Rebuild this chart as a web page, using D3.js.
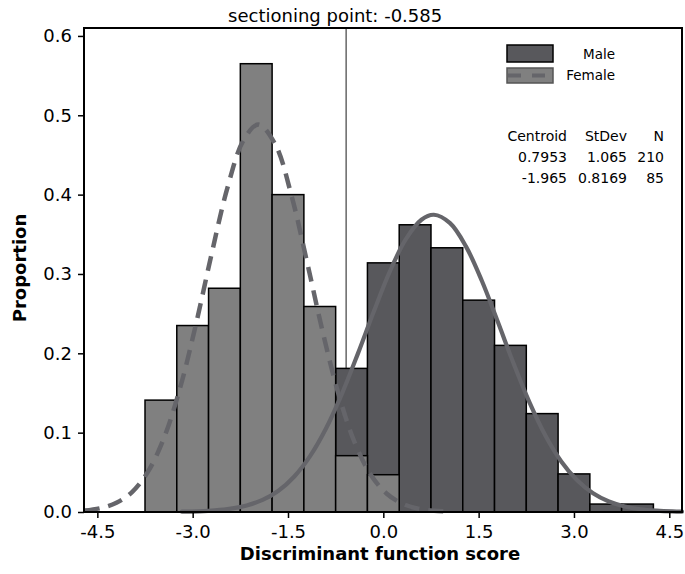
<!DOCTYPE html>
<html>
<head>
<meta charset="utf-8">
<script src="https://cdn.jsdelivr.net/npm/d3@7"></script>
<style>
  html, body { margin: 0; padding: 0; background: #fff; }
  svg { display: block; }
  text { font-family: "DejaVu Sans", Verdana, sans-serif; fill: #000; }
</style>
</head>
<body>
<svg id="chart" width="685" height="574"></svg>
<script>
// ---- data ----
const binStarts = [-3.75, -3.25, -2.75, -2.25, -1.75, -1.25, -0.75, -0.25, 0.25, 0.75, 1.25, 1.75, 2.25, 2.75, 3.25, 3.75];
const binWidth = 0.5;
const maleValues   = [0, 0, 0, 0.019, 0.038, 0.086, 0.181, 0.314, 0.362, 0.333, 0.267, 0.210, 0.124, 0.048, 0.010, 0.010];
const femaleValues = [0.141, 0.235, 0.282, 0.565, 0.400, 0.259, 0.071, 0.047, 0, 0, 0, 0, 0, 0, 0, 0];

const femaleCurveX = [-4.70, -4.45, -4.20, -3.95, -3.70, -3.45, -3.20, -2.95, -2.70, -2.45, -2.20, -1.965, -1.70, -1.45, -1.20, -0.95, -0.70, -0.45, -0.20, 0.05, 0.30, 0.55, 0.80, 1.05];
const femaleCurveY = [0.0018, 0.0048, 0.0116, 0.0255, 0.0512, 0.0936, 0.1558, 0.2361, 0.3259, 0.4095, 0.4686, 0.4884, 0.4633, 0.4004, 0.3150, 0.2257, 0.1473, 0.0875, 0.0473, 0.0233, 0.0105, 0.0043, 0.0016, 0.0005];

const maleCurveX = [-3.17, -2.90, -2.65, -2.40, -2.15, -1.90, -1.65, -1.40, -1.15, -0.90, -0.65, -0.40, -0.15, 0.10, 0.35, 0.60, 0.7953, 1.05, 1.30, 1.55, 1.80, 2.05, 2.30, 2.55, 2.80, 3.05, 3.30, 3.55, 3.80, 4.05, 4.30, 4.55, 4.70];
const maleCurveY = [0.0004, 0.0009, 0.0020, 0.0042, 0.0082, 0.0152, 0.0268, 0.0448, 0.0707, 0.1055, 0.1492, 0.1996, 0.2526, 0.3027, 0.3432, 0.3683, 0.3746, 0.3640, 0.3348, 0.2914, 0.2400, 0.1871, 0.1381, 0.0964, 0.0637, 0.0399, 0.0236, 0.0132, 0.0070, 0.0035, 0.0017, 0.0007, 0.0004];

const sectioningPoint = -0.585;
const xTicks = [-4.5, -3.0, -1.5, 0.0, 1.5, 3.0, 4.5];
const yTicks = [0.0, 0.1, 0.2, 0.3, 0.4, 0.5, 0.6];
const legendLabels = ["Male", "Female"];
const tableHeader = ["Centroid", "StDev", "N"];
const tableRows = [["0.7953", "1.065", "210"], ["-1.965", "0.8169", "85"]];

// ---- drawing ----
const svg = d3.select("#chart");
const L = 84, R = 682, T = 28, B = 512;
const x = d3.scaleLinear().domain([-4.71, 4.70]).range([L, R]);
const y = d3.scaleLinear().domain([0, 0.61]).range([B, T]);

const maleFill = "#58585c", femaleFill = "#808080", lineCol = "#65656a";

// sectioning line (behind bars)
svg.append("line")
  .attr("x1", x(sectioningPoint)).attr("x2", x(sectioningPoint))
  .attr("y1", T).attr("y2", B)
  .attr("stroke", "#666").attr("stroke-width", 1.5);

svg.append("text")
  .attr("x", x(sectioningPoint) - 11).attr("y", 22)
  .attr("text-anchor", "middle")
  .style("font-size", "18px")
  .text("sectioning point: " + sectioningPoint.toFixed(3));

// bars
const bins = binStarts.map((s, i) => ({ s, m: maleValues[i], f: femaleValues[i] }));
svg.append("g").selectAll("rect")
  .data(bins.filter(d => d.m > 0)).join("rect")
  .attr("x", d => x(d.s)).attr("width", d => x(d.s + binWidth) - x(d.s))
  .attr("y", d => y(d.m)).attr("height", d => y(0) - y(d.m))
  .attr("fill", maleFill).attr("stroke", "#000").attr("stroke-width", 1.5);
svg.append("g").selectAll("rect")
  .data(bins.filter(d => d.f > 0)).join("rect")
  .attr("x", d => x(d.s)).attr("width", d => x(d.s + binWidth) - x(d.s))
  .attr("y", d => y(d.f)).attr("height", d => y(0) - y(d.f))
  .attr("fill", femaleFill).attr("stroke", "#000").attr("stroke-width", 1.5);

// curves
const line = d3.line().x(d => x(d[0])).y(d => y(d[1])).curve(d3.curveCatmullRom);
svg.append("path")
  .attr("d", line(maleCurveX.map((v, i) => [v, maleCurveY[i]])))
  .attr("fill", "none").attr("stroke", lineCol).attr("stroke-width", 4.2)
  .attr("stroke-linecap", "round");
svg.append("path")
  .attr("d", line(femaleCurveX.map((v, i) => [v, femaleCurveY[i]])))
  .attr("fill", "none").attr("stroke", lineCol).attr("stroke-width", 4.5)
  .attr("stroke-dasharray", "15 9");

// frame
svg.append("rect")
  .attr("x", L).attr("y", T).attr("width", R - L).attr("height", B - T)
  .attr("fill", "none").attr("stroke", "#000").attr("stroke-width", 2);

// axes
const yAxis = svg.append("g").attr("transform", `translate(${L},0)`)
  .call(d3.axisLeft(y).tickValues(yTicks).tickSize(6).tickPadding(6).tickFormat(d => d.toFixed(1)));
const xAxis = svg.append("g").attr("transform", `translate(0,${B})`)
  .call(d3.axisBottom(x).tickValues(xTicks).tickSize(6).tickPadding(7).tickFormat(d => d.toFixed(1)));
[yAxis, xAxis].forEach(g => {
  g.select(".domain").remove();
  g.selectAll(".tick line").attr("stroke", "#000").attr("stroke-width", 1.5);
  g.selectAll(".tick text").style("font-size", "18px").style("font-family", "'DejaVu Sans', Verdana, sans-serif").attr("fill", "#000");
});

// axis titles
svg.append("text")
  .attr("x", 380).attr("y", 560)
  .attr("text-anchor", "middle")
  .style("font-size", "18px").style("font-weight", "bold")
  .text("Discriminant function score");
svg.append("text")
  .attr("transform", "translate(26,268) rotate(-90)")
  .attr("text-anchor", "middle")
  .style("font-size", "18px").style("font-weight", "bold")
  .text("Proportion");

// legend
const lg = svg.append("g");
lg.append("rect").attr("x", 507).attr("y", 45).attr("width", 46).attr("height", 17)
  .attr("fill", maleFill).attr("stroke", "#000").attr("stroke-width", 1.5);
lg.append("rect").attr("x", 507).attr("y", 68).attr("width", 46).attr("height", 15)
  .attr("fill", femaleFill).attr("stroke", "#555").attr("stroke-width", 1.5);
lg.append("line").attr("x1", 508).attr("x2", 552).attr("y1", 75.5).attr("y2", 75.5)
  .attr("stroke", lineCol).attr("stroke-width", 4).attr("stroke-dasharray", "13 11");
lg.selectAll("text.leg").data(legendLabels).join("text")
  .attr("class", "leg")
  .attr("x", 615).attr("y", (d, i) => i === 0 ? 59 : 80)
  .attr("text-anchor", "end")
  .style("font-size", "13.5px")
  .text(d => d);

// stats table
const colRight = [567, 627, 664];
const rowBase = [141, 161.5, 183];
const tbl = svg.append("g").style("font-size", "14px");
[tableHeader, ...tableRows].forEach((row, ri) => {
  row.forEach((cell, ci) => {
    tbl.append("text").attr("x", colRight[ci]).attr("y", rowBase[ri])
      .attr("text-anchor", "end").text(cell);
  });
});
</script>
</body>
</html>
